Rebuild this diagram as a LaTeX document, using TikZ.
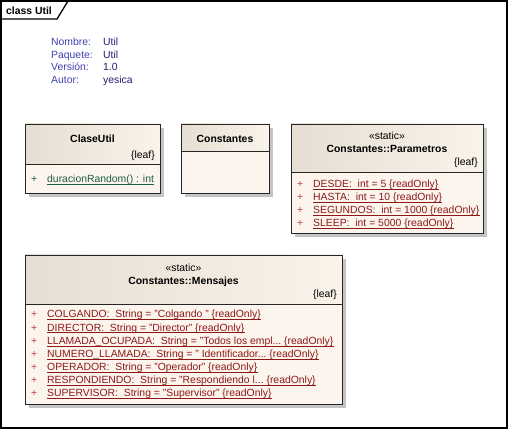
\documentclass[tikz,border=0pt]{standalone}
\usepackage{fontspec}
\setmainfont{Liberation Sans}

\definecolor{headleft}{RGB}{230,222,210}
\definecolor{headright}{RGB}{250,243,234}
\definecolor{bodyfill}{RGB}{252,245,238}
\definecolor{shadowgray}{RGB}{196,196,196}
\definecolor{attrred}{RGB}{140,24,24}
\definecolor{plusred}{RGB}{196,64,64}
\definecolor{opgreen}{RGB}{30,92,70}
\definecolor{labelblue}{RGB}{64,64,176}
\definecolor{valueblue}{RGB}{32,32,112}

% cut-off text
\newcommand{\trunc}{...}
% one class element: x1, y1, x2, y2, y of the divider
\newcommand{\classbox}[5]{%
	\fill[shadowgray] (#1+4,#2+4) rectangle (#3+4,#4+4);
	\fill[bodyfill] (#1,#5) rectangle (#3,#4);
	\shade[left color=headleft, right color=headright] (#1,#2) rectangle (#3,#5);
	\draw[boxline] (#1,#2) rectangle (#3,#4);
	\draw[boxline] (#1,#5)--(#3,#5);}

\begin{document}
\begin{tikzpicture}[x=1pt, y=-1pt, font=\fontsize{10.4}{13}\selectfont,
	boxline/.style={black!85, line width=0.8pt},
	txt/.style={inner sep=0pt, anchor=base west},
	cname/.style={inner sep=0pt, anchor=base, font=\fontsize{10.4}{13}\selectfont\bfseries},
	leaf/.style={inner sep=0pt, anchor=base east},
	attr/.style={txt, text=attrred},
	plus/.style={txt, text=plusred}]
	\useasboundingbox (0,0) rectangle (509,430);
	% frame
	\draw[line width=1.3pt] (1,1) rectangle (507,428);
	\draw[line width=1.3pt] (1,19)--(57,19)--(68,1);
	\node[txt, font=\fontsize{10.4}{13}\selectfont\bfseries] (title) at (6,15) {class Util};
	% package notes
	\node[txt, text=labelblue] (nombre) at (51,46) {Nombre:};
	\node[txt, text=labelblue] (paquete) at (51,58.5) {Paquete:};
	\node[txt, text=labelblue] (version) at (51,71) {Versión:};
	\node[txt, text=labelblue] (autor) at (51,84) {Autor:};
	\node[txt, text=valueblue] (nombreval) at (103,46) {Util};
	\node[txt, text=valueblue] (paqueteval) at (103,58.5) {Util};
	\node[txt, text=valueblue] (versionval) at (103,71) {1.0};
	\node[txt, text=valueblue] (autorval) at (103,84) {yesica};

	% ClaseUtil
	\classbox{25}{124}{160}{193}{164}
	\node[cname] (claseutil) at (92.5,143) {ClaseUtil};
	\node[leaf] (claseutilleaf) at (155,159) {\{leaf\}};
	\node[txt, text=opgreen] (opplus) at (31,183) {+};
	\node[txt, text=opgreen] (op) at (47,183) {duracionRandom() : int};
	\draw[opgreen, line width=0.6pt] ([yshift=-1.6pt]op.base west)--([yshift=-1.6pt]op.base east);

	% Constantes
	\classbox{181}{124}{269}{193}{151}
	\node[cname] (constantes) at (225,143) {Constantes};

	% Constantes::Parametros
	\classbox{291}{124}{483}{233}{172}
	\node[inner sep=0pt, anchor=base] (parstereo) at (387,140) {«static»};
	\node[cname] (parametros) at (387,153) {Constantes::Parametros};
	\node[leaf] (parleaf) at (478,166) {\{leaf\}};
	\foreach \t [count=\i from 0] in {DESDE:~ int = 5, HASTA:~ int = 10,
		SEGUNDOS:~ int = 1000, SLEEP:~ int = 5000} {
		\node[plus] (pp\i) at (297,188+13*\i) {+};
		\node[attr] (p\i) at (313,188+13*\i) {\t~\{readOnly\}};
		\draw[attrred, line width=0.6pt] ([yshift=-1.6pt]p\i.base west)--([yshift=-1.6pt]p\i.base east);
	}

	% Constantes::Mensajes
	\classbox{25}{255}{342}{404}{304}
	\node[inner sep=0pt, anchor=base] (menstereo) at (183.5,272) {«static»};
	\node[cname] (mensajes) at (183.5,285) {Constantes::Mensajes};
	\node[leaf] (mensleaf) at (337,298) {\{leaf\}};
	\foreach \t [count=\i from 0] in {COLGANDO:~ String = "Colgando ",
		DIRECTOR:~ String = "Director", LLAMADA\_OCUPADA:~ String = "Todos los empl\trunc,
		NUMERO\_LLAMADA:~ String = " Identificador\trunc, OPERADOR:~ String = "Operador",
		RESPONDIENDO:~ String = "Respondiendo l\trunc, SUPERVISOR:~ String = "Supervisor"} {
		\node[plus] (mp\i) at (31,318+13.15*\i) {+};
		\node[attr] (m\i) at (47,318+13.15*\i) {\t~\{readOnly\}};
		\draw[attrred, line width=0.6pt] ([yshift=-1.6pt]m\i.base west)--([yshift=-1.6pt]m\i.base east);
	}
\end{tikzpicture}
\end{document}
